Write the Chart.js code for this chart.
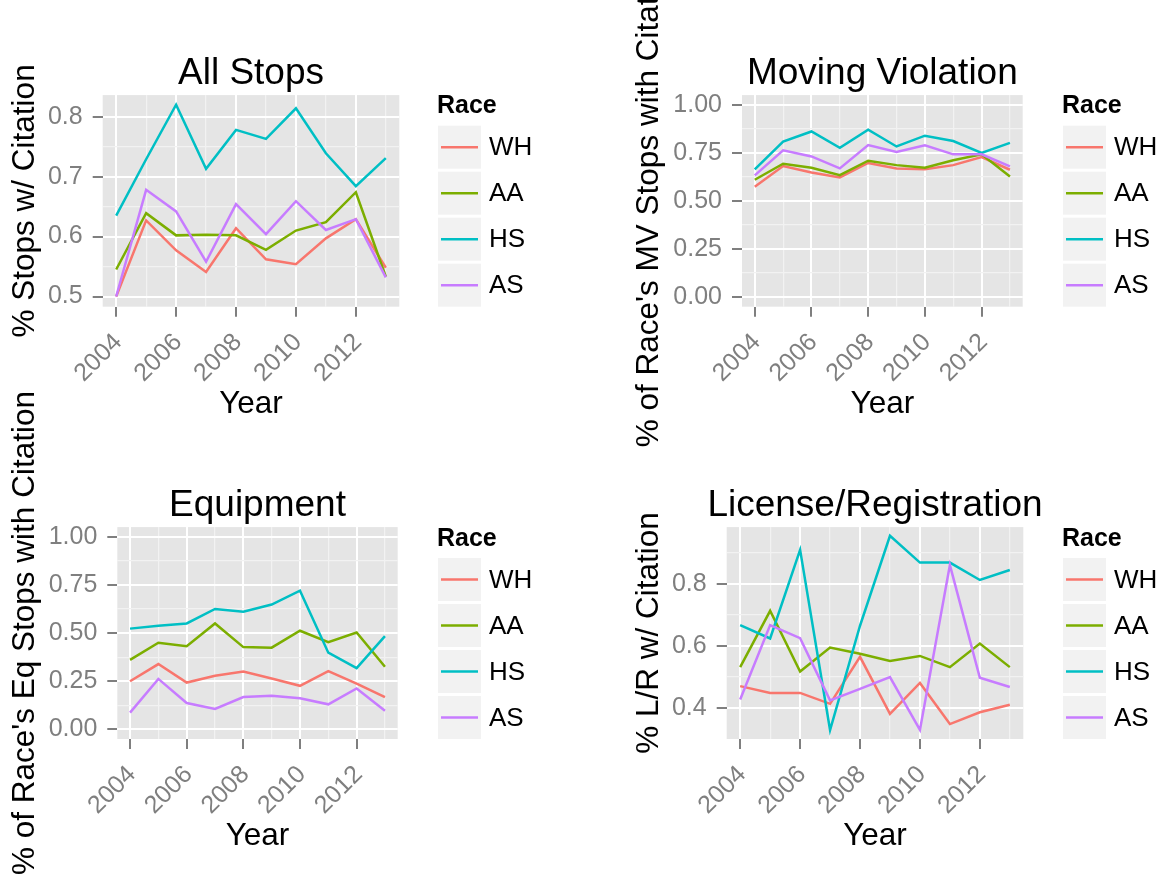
<!DOCTYPE html>
<html>
<head>
<meta charset="utf-8">
<script src="https://cdn.jsdelivr.net/npm/chart.js@4.4.1/dist/chart.umd.min.js"></script>
<style>
  html, body { margin: 0; padding: 0; background: #fff; }
  #wrap { position: relative; width: 1164px; height: 879px; overflow: hidden; }
  #wrap canvas { position: absolute; top: 0; }
</style>
</head>
<body>
<div id="wrap">
  <canvas id="cAll" width="582" height="879" style="left:0"></canvas>
  <canvas id="cMV" width="582" height="879" style="left:582px"></canvas>
  <canvas id="cEq" width="582" height="879" style="left:0"></canvas>
  <canvas id="cLR" width="582" height="879" style="left:582px"></canvas>
</div>
<script>
// --- data ---
const years = [2004, 2005, 2006, 2007, 2008, 2009, 2010, 2011, 2012, 2013];
const yearLabels = [2004, 2006, 2008, 2010, 2012];
const races = ['WH', 'AA', 'HS', 'AS'];
const raceColors = ['#F8766D', '#7CAE00', '#00BFC4', '#C77CFF'];

// All Stops
const allWH = [0.500, 0.627, 0.577, 0.541, 0.614, 0.562, 0.554, 0.597, 0.629, 0.548];
const allAA = [0.545, 0.639, 0.602, 0.603, 0.602, 0.578, 0.610, 0.624, 0.674, 0.533];
const allHS = [0.635, 0.729, 0.820, 0.713, 0.778, 0.763, 0.814, 0.739, 0.684, 0.731];
const allAS = [0.500, 0.678, 0.642, 0.558, 0.654, 0.604, 0.659, 0.611, 0.629, 0.532];
const allTicks = [0.5, 0.6, 0.7, 0.8];

// Moving Violation
const mvWH = [0.574, 0.681, 0.648, 0.622, 0.697, 0.669, 0.664, 0.686, 0.728, 0.662];
const mvAA = [0.610, 0.693, 0.672, 0.634, 0.709, 0.686, 0.672, 0.711, 0.742, 0.627];
const mvHS = [0.664, 0.808, 0.861, 0.776, 0.870, 0.783, 0.839, 0.811, 0.749, 0.802];
const mvAS = [0.633, 0.763, 0.731, 0.669, 0.790, 0.754, 0.789, 0.742, 0.742, 0.679];

// Equipment
const eqWH = [0.250, 0.339, 0.243, 0.278, 0.300, 0.264, 0.226, 0.302, 0.238, 0.167];
const eqAA = [0.361, 0.450, 0.432, 0.550, 0.427, 0.424, 0.512, 0.453, 0.503, 0.325];
const eqHS = [0.523, 0.538, 0.550, 0.625, 0.611, 0.648, 0.720, 0.398, 0.318, 0.484];
const eqAS = [0.087, 0.262, 0.137, 0.106, 0.168, 0.175, 0.161, 0.130, 0.212, 0.097];
const quarterTicks = [0, 0.25, 0.5, 0.75, 1];

// License/Registration
const lrWH = [0.471, 0.449, 0.449, 0.414, 0.565, 0.382, 0.481, 0.349, 0.387, 0.411];
const lrAA = [0.532, 0.713, 0.518, 0.595, 0.575, 0.552, 0.568, 0.532, 0.608, 0.532];
const lrHS = [0.667, 0.624, 0.909, 0.330, 0.665, 0.954, 0.868, 0.868, 0.812, 0.844];
const lrAS = [0.428, 0.667, 0.625, 0.425, 0.462, 0.500, 0.330, 0.860, 0.498, 0.468];
const lrTicks = [0.4, 0.6, 0.8];

// --- ggplot-ish look ---
const FONT = "'Liberation Sans', Arial, Helvetica, sans-serif";
Chart.defaults.font.family = FONT;
const GREY = '#7F7F7F';

const near = (a, b) => Math.abs(a - b) < 1e-6;
const isIn = (list, v) => list.some(m => near(m, v));

// minor breaks halfway between majors, kept inside the limits
function withMinors(majors, lo, hi) {
  const step = majors[1] - majors[0];
  const out = [];
  for (let v = majors[0] - step / 2; v <= majors[majors.length - 1] + step / 2 + 1e-9; v += step / 2) {
    if (v >= lo - 1e-9 && v <= hi + 1e-9) out.push(+v.toFixed(6));
  }
  return out;
}

// panel background
const panelBg = {
  id: 'panelBg',
  beforeDraw(chart) {
    const { ctx, chartArea: a } = chart;
    ctx.save();
    ctx.fillStyle = '#E5E5E5';
    ctx.fillRect(a.left, a.top, a.right - a.left, a.bottom - a.top);
    ctx.restore();
  }
};

// plot title centred over the panel (the built-in one gets squeezed to the panel width)
const panelTitle = {
  id: 'panelTitle',
  afterDraw(chart, args, opts) {
    const { ctx, chartArea: a } = chart;
    ctx.save();
    ctx.fillStyle = '#000';
    ctx.font = '37px ' + FONT;
    ctx.textAlign = 'center';
    ctx.textBaseline = 'middle';
    ctx.fillText(opts.text, (a.left + a.right) / 2, a.top - 21.5);
    ctx.restore();
  }
};

// legend drawn like a ggplot guide: title + grey key boxes
const ggLegend = {
  id: 'ggLegend',
  afterDraw(chart, args, opts) {
    const { ctx, chartArea } = chart;
    const x0 = opts.x, size = 43, pitch = 46;
    const top = chartArea.bottom - 3 * pitch - size;
    ctx.save();
    ctx.fillStyle = '#000';
    ctx.font = 'bold 25px ' + FONT;
    ctx.textBaseline = 'alphabetic';
    ctx.fillText(opts.title, x0 - 1, top - 12.5);
    chart.data.datasets.forEach((ds, i) => {
      const y = top + i * pitch;
      ctx.fillStyle = '#F2F2F2';
      ctx.fillRect(x0, y, size, size);
      ctx.strokeStyle = ds.borderColor;
      ctx.lineWidth = 2.6;
      ctx.beginPath();
      ctx.moveTo(x0 + 3, y + size / 2);
      ctx.lineTo(x0 + 40, y + size / 2);
      ctx.stroke();
      ctx.fillStyle = '#000';
      ctx.font = '26px ' + FONT;
      ctx.textBaseline = 'middle';
      ctx.fillText(ds.label, x0 + 51, y + size / 2 + 1);
    });
    ctx.restore();
  }
};

function gridOpts(majors) {
  return {
    color: c => (c.tick && isIn(majors, c.tick.value)) ? '#FFFFFF' : '#F2F2F2',
    lineWidth: c => (c.tick && isIn(majors, c.tick.value)) ? 2 : 1.2,
    tickColor: c => (c.tick && isIn(majors, c.tick.value)) ? GREY : 'rgba(0,0,0,0)',
    tickLength: 10,
    tickWidth: 2
  };
}

function makeChart(id, cfg) {
  const xMin = 2003.55, xMax = 2013.45;
  const yAll = withMinors(cfg.yMajor, cfg.yMin, cfg.yMax);
  const series = [cfg.wh, cfg.aa, cfg.hs, cfg.as];
  const L = cfg.layout;
  return new Chart(document.getElementById(id), {
    type: 'line',
    data: {
      datasets: races.map((r, i) => ({
        label: r,
        data: years.map((yr, k) => ({ x: yr, y: series[i][k] })),
        borderColor: raceColors[i],
        backgroundColor: raceColors[i],
        borderWidth: 2.5,
        pointRadius: 0,
        tension: 0,
        fill: false,
        order: races.length - 1 - i
      }))
    },
    options: {
      responsive: false,
      animation: false,
      devicePixelRatio: 1,
      events: [],
      layout: { padding: L.padding },
      scales: {
        x: {
          type: 'linear',
          min: xMin,
          max: xMax,
          afterBuildTicks: s => { s.ticks = years.map(v => ({ value: v })); },
          afterFit: s => { s.height = L.xHeight; },
          border: { display: false },
          grid: gridOpts(yearLabels),
          ticks: {
            autoSkip: false,
            minRotation: 45,
            maxRotation: 45,
            padding: 11,
            labelOffset: 2,
            color: GREY,
            font: { size: 25 },
            callback: v => isIn(yearLabels, v) ? String(v) : ''
          },
          title: { display: true, text: 'Year', color: '#000', font: { size: 31.5 }, padding: 0 }
        },
        y: {
          type: 'linear',
          min: cfg.yMin,
          max: cfg.yMax,
          afterBuildTicks: s => { s.ticks = yAll.map(v => ({ value: v })); },
          afterFit: s => { s.width = L.yWidth; },
          border: { display: false },
          grid: gridOpts(cfg.yMajor),
          ticks: {
            autoSkip: false,
            padding: 10,
            color: GREY,
            font: { size: 25 },
            callback: v => isIn(cfg.yMajor, v) ? v.toFixed(cfg.decimals) : ''
          },
          title: { display: true, text: cfg.yTitle, color: '#000', font: { size: 31.5 }, padding: 0 }
        }
      },
      plugins: {
        legend: { display: false },
        tooltip: { enabled: false },
        title: { display: false },
        panelTitle: { text: cfg.title },
        ggLegend: { x: L.legendX, title: 'Race' }
      }
    },
    plugins: [panelBg, panelTitle, ggLegend]
  });
}

makeChart('cAll', {
  title: 'All Stops', yTitle: '% Stops w/ Citation',
  wh: allWH, aa: allAA, hs: allHS, as: allAS,
  yMin: 0.483, yMax: 0.836, yMajor: allTicks, decimals: 1,
  layout: { padding: { left: 6.1, right: 182.7, top: 95.1, bottom: 456.1 }, yWidth: 96.6, xHeight: 116.2, legendX: 438 }
});

makeChart('cMV', {
  title: 'Moving Violation', yTitle: "% of Race's MV Stops with Citation",
  wh: mvWH, aa: mvAA, hs: mvHS, as: mvAS,
  yMin: -0.05, yMax: 1.05, yMajor: quarterTicks, decimals: 2,
  layout: { padding: { left: 48.6, right: 141.3, top: 95.1, bottom: 456.1 }, yWidth: 111.4, xHeight: 116.2, legendX: 481 }
});

makeChart('cEq', {
  title: 'Equipment', yTitle: "% of Race's Eq Stops with Citation",
  wh: eqWH, aa: eqAA, hs: eqHS, as: eqAS,
  yMin: -0.05, yMax: 1.05, yMajor: quarterTicks, decimals: 2,
  layout: { padding: { left: 6.1, right: 184.3, top: 527.1, bottom: 24.1 }, yWidth: 111.2, xHeight: 115.9, legendX: 438 }
});

makeChart('cLR', {
  title: 'License/Registration', yTitle: '% L/R w/ Citation',
  wh: lrWH, aa: lrAA, hs: lrHS, as: lrAS,
  yMin: 0.301, yMax: 0.982, yMajor: lrTicks, decimals: 1,
  layout: { padding: { left: 48.6, right: 140.7, top: 527.1, bottom: 24.1 }, yWidth: 96.1, xHeight: 115.9, legendX: 481 }
});
</script>
</body>
</html>
